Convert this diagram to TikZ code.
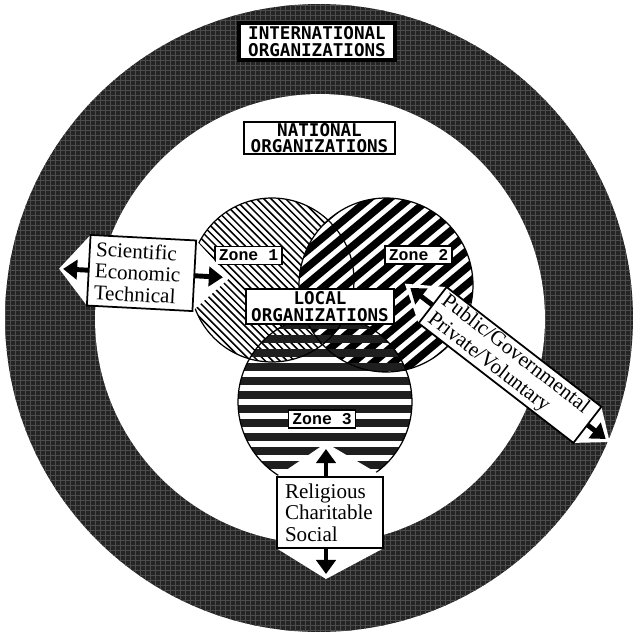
\documentclass[tikz,border=0pt]{standalone}
\usepackage{fontspec}
\setmainfont{Liberation Serif}
\newfontfamily\orgfont{DejaVu Sans Mono}
\newfontfamily\zonefont{Liberation Mono}
\usetikzlibrary{arrows.meta,calc}
\definecolor{ringc}{RGB}{36,36,36}
\definecolor{gridc}{RGB}{76,76,76}
\begin{document}
\begin{tikzpicture}[x=0.02cm,y=-0.02cm,
  orgbox/.style={draw=black, fill=white, inner sep=0pt, align=center,
    font=\orgfont\bfseries\fontsize{10}{9.5}\selectfont},
  zonebox/.style={draw=black, fill=white, line width=0.9pt, inner sep=0pt,
    minimum width=1.34cm, minimum height=0.36cm,
    font=\zonefont\bfseries\fontsize{9.4}{10}\selectfont},
  labbox/.style={fill=white, inner ysep=0pt, align=left,
    font=\fontsize{12}{12.3}\selectfont},
  boxline/.style={draw=black, line width=1pt},
  bigarrow/.style={line width=2.8pt, -{Triangle[length=8pt,width=11pt]}},
  thinhatch/.style={line width=0.85pt},
  thickhatch/.style={line width=4.3pt},
  bandhatch/.style={line width=5pt, black!88},
  zoneline/.style={line width=0.7pt}
]
\useasboundingbox (0,0) rectangle (634,635);
\fill[white] (0,0) rectangle (634,635);

% ---- outer ring (international) ----
\begin{scope}
  \clip (319,318) circle[radius=6.28cm];
  \fill[ringc] (0,0) rectangle (634,635);
  \foreach \g in {0,5,...,635} {
    \draw[gridc, line width=0.3pt] (\g,0) -- (\g,635);
    \draw[gridc, line width=0.3pt] (0,\g) -- (634,\g);
  }
\end{scope}
\fill[white] (320,319) circle[radius=4.5cm];

% ---- zone 1 : thin backslash hatch ----
\begin{scope}
  \clip (272,280) circle[radius=1.64cm];
  \foreach \i in {-28,...,28}
    \draw[thinhatch] ({172+(\i)*7.3},180) -- ({372+(\i)*7.3},380);
\end{scope}

% ---- zone 2 : thick slash stripes ----
\begin{scope}
  \clip (386,285) circle[radius=1.74cm];
  \fill[white] (386,285) circle[radius=1.74cm];
  \foreach \i in {-12,...,12}
    \draw[thickhatch] ({271+(\i)*20},381) -- ({501+(\i)*20},189);
\end{scope}

% ---- zone 3 : horizontal bands ----
\begin{scope}
  \clip (325,402) circle[radius=1.74cm];
  \foreach \i in {-7,...,6}
    \draw[bandhatch] (230,{395+(\i)*14}) -- (420,{395+(\i)*14});
\end{scope}

\draw[zoneline] (272,280) circle[radius=1.64cm];
\draw[zoneline] (386,285) circle[radius=1.74cm];
\draw[zoneline] (325,402) circle[radius=1.74cm];

% ---- organisation labels ----
\node[orgbox, line width=2.4pt, minimum width=3.12cm, minimum height=0.74cm] (intl) at (317,41.5) {INTERNATIONAL\\ORGANIZATIONS};
\node[orgbox, line width=1.1pt, minimum width=3.02cm, minimum height=0.64cm] (natl) at (319.5,138) {NATIONAL\\ORGANIZATIONS};

% ---- zone labels ----
\node[zonebox] (z1) at (248.5,255.5) {Zone 1};
\node[zonebox] (z2) at (418.5,255) {Zone 2};
\node[zonebox] (z3) at (322,419) {Zone 3};

% ---- Religious / Charitable / Social ----
\node[labbox, text width=1.8cm, inner xsep=0.16cm, minimum height=1.42cm] (rel) at (330,512.5) {Religious\\Charitable\\Social};
\coordinate (relT) at (326,443);
\coordinate (relTa) at (326,449);
\coordinate (relB) at (326,579);
\coordinate (relBa) at (326,574);
\fill[white] (rel.north west) -- (relT) -- (rel.north east) -- cycle;
\fill[white] (rel.south west) -- (relB) -- (rel.south east) -- cycle;
\draw[boxline] (rel.south west) rectangle (rel.north east);
\draw[bigarrow] (rel.north -| relTa) -- (relTa);
\draw[bigarrow] (rel.south -| relBa) -- (relBa);

% ---- Public / Private (tilted) ----
\begin{scope}[rotate around={-37.7:(510,365)}, transform shape]
  \node[labbox, text width=3.7cm, inner xsep=0.1cm, minimum height=0.9cm,
        font=\fontsize{12}{13}\selectfont] (pub) at (510,365) {Public/Governmental\\Private/Voluntary};
  \coordinate (pubL) at (377,365);
  \coordinate (pubLa) at (384,365);
  \coordinate (pubR) at (636,365);
  \coordinate (pubRa) at (631,365);
  \fill[white] (pub.north west) -- (pubL) -- (pub.south west) -- cycle;
  \fill[white] (pub.north east) -- (pubR) -- (pub.south east) -- cycle;
  \draw[boxline] (pub.south west) rectangle (pub.north east);
  \draw[bigarrow] (pub.west) -- (pubLa);
  \draw[bigarrow] (pub.east) -- (pubRa);
\end{scope}

% ---- local organisations (centre) ----
\node[orgbox, line width=1.2pt, minimum width=2.96cm, minimum height=0.70cm] (local) at (320,306.5) {LOCAL\\ORGANIZATIONS};

% ---- Scientific / Economic / Technical (slightly tilted) ----
\begin{scope}[rotate around={-3:(141.5,273)}, transform shape]
  \node[labbox, text width=1.86cm, inner xsep=0.12cm, minimum height=1.4cm] (sci) at (141.5,273) {Scientific\\Economic\\Technical};
  \coordinate (sciL) at (59,273);
  \coordinate (sciLa) at (63,273);
  \coordinate (sciR) at (230,273);
  \coordinate (sciRa) at (223,273);
  \fill[white] (sci.north west) -- (sciL) -- (sci.south west) -- cycle;
  \fill[white] (sci.north east) -- (sciR) -- (sci.south east) -- cycle;
  \draw[boxline] (sci.south west) rectangle (sci.north east);
  \draw[bigarrow] (sci.west) -- (sciLa);
  \draw[bigarrow] (sci.east) -- (sciRa);
\end{scope}
\end{tikzpicture}
\end{document}
